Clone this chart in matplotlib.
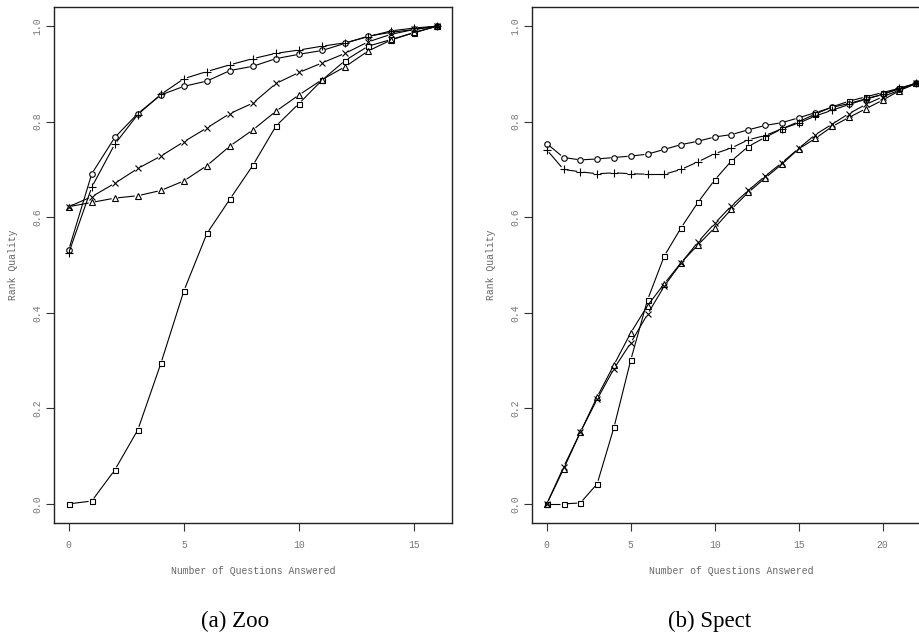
import numpy as np
import matplotlib
matplotlib.use("Agg")
import matplotlib.pyplot as plt

# Zoo dataset (x = 0..16)
zoo_x = list(range(17))
zoo_circle = [0.532, 0.691, 0.767, 0.817, 0.856, 0.874, 0.885, 0.907, 0.916, 0.932,
              0.941, 0.949, 0.964, 0.979, 0.987, 0.993, 1.0]
zoo_plus = [0.525, 0.663, 0.753, 0.815, 0.857, 0.890, 0.905, 0.919, 0.932, 0.943,
            0.950, 0.958, 0.965, 0.978, 0.990, 0.996, 1.0]
zoo_cross = [0.622, 0.643, 0.671, 0.702, 0.728, 0.758, 0.787, 0.817, 0.839, 0.880,
             0.903, 0.923, 0.943, 0.967, 0.983, 0.993, 1.0]
zoo_triangle = [0.622, 0.631, 0.640, 0.645, 0.656, 0.676, 0.708, 0.749, 0.783, 0.822,
                0.856, 0.888, 0.915, 0.948, 0.971, 0.987, 1.0]
zoo_square = [0.0, 0.006, 0.071, 0.155, 0.294, 0.446, 0.566, 0.638, 0.709, 0.791,
              0.838, 0.887, 0.928, 0.958, 0.972, 0.986, 1.0]

# Spect dataset (x = 0..22)
spect_x = list(range(23))
spect_circle = [0.754, 0.725, 0.720, 0.722, 0.725, 0.728, 0.732, 0.742, 0.752, 0.759,
                0.768, 0.773, 0.783, 0.792, 0.798, 0.808, 0.819, 0.830, 0.838, 0.848,
                0.857, 0.869, 0.880]
spect_plus = [0.741, 0.700, 0.695, 0.691, 0.693, 0.691, 0.690, 0.690, 0.700, 0.716,
              0.733, 0.745, 0.762, 0.771, 0.785, 0.797, 0.812, 0.824, 0.836, 0.847,
              0.857, 0.870, 0.880]
spect_square = [0.0, 0.0, 0.002, 0.042, 0.160, 0.301, 0.427, 0.519, 0.578, 0.631,
                0.678, 0.718, 0.748, 0.767, 0.785, 0.800, 0.816, 0.831, 0.843, 0.852,
                0.861, 0.870, 0.880]
spect_cross = [0.0, 0.077, 0.150, 0.219, 0.283, 0.337, 0.397, 0.456, 0.504, 0.548,
               0.587, 0.624, 0.656, 0.686, 0.714, 0.744, 0.773, 0.795, 0.817, 0.836,
               0.852, 0.866, 0.880]
spect_triangle = [0.0, 0.073, 0.150, 0.224, 0.291, 0.358, 0.415, 0.461, 0.505, 0.542,
                  0.578, 0.617, 0.652, 0.682, 0.711, 0.743, 0.765, 0.790, 0.809, 0.827,
                  0.845, 0.865, 0.880]

W, H = 920, 637
fig = plt.figure(figsize=(W / 100, H / 100), dpi=100)


def px_axes(left, top, right, bottom):
    return fig.add_axes([left / W, 1 - bottom / H, (right - left) / W, (bottom - top) / H])


def gapped(ax, x, y, marker, ms, gap=3.2):
    # R type="b": segments stop short of each point
    pts = ax.transData.transform(np.column_stack([x, y]))
    inv = ax.transData.inverted()
    for p0, p1 in zip(pts[:-1], pts[1:]):
        d = p1 - p0
        L = np.hypot(*d)
        if L <= 2 * gap:
            continue
        u = d / L
        a, b = inv.transform([p0 + u * gap, p1 - u * gap])
        ax.plot([a[0], b[0]], [a[1], b[1]], color="black", lw=0.8, solid_capstyle="butt")
    ax.plot(x, y, ls="none", marker=marker, ms=ms, mfc="none", mec="black", mew=0.8)


def style(ax, xmax, xticks):
    ax.set_xlim(-0.04 * xmax, xmax * 1.04)
    ax.set_ylim(-0.04, 1.04)
    ax.set_xticks(xticks)
    ax.set_yticks([0.0, 0.2, 0.4, 0.6, 0.8, 1.0])
    ax.set_yticklabels(["0.0", "0.2", "0.4", "0.6", "0.8", "1.0"], rotation=90, va="center")
    ax.tick_params(length=5.5, width=0.8, colors="#333333", labelcolor="#777777",
                   labelsize=7)
    ax.tick_params(axis="x", pad=7)
    ax.tick_params(axis="y", pad=3)
    for lab in ax.get_xticklabels() + ax.get_yticklabels():
        lab.set_family("Liberation Mono")
    for s in ax.spines.values():
        s.set_linewidth(1.0)
        s.set_color("#222222")
    ax.set_xlabel("Number of Questions Answered", family="Liberation Mono",
                  fontsize=7, color="#666666", labelpad=11)
    ax.set_ylabel("Rank Quality", family="Liberation Mono", fontsize=7,
                  color="#666666", labelpad=10)


ax1 = px_axes(54, 7, 452, 523)
style(ax1, 16, [0, 5, 10, 15])
gapped(ax1, zoo_x, zoo_square, "s", 3.6)
gapped(ax1, zoo_x, zoo_triangle, "^", 4.6)
gapped(ax1, zoo_x, zoo_cross, "x", 4.2)
gapped(ax1, zoo_x, zoo_plus, "+", 6.0)
gapped(ax1, zoo_x, zoo_circle, "o", 4.0)

ax2 = px_axes(532, 7, 931, 523)
style(ax2, 22, [0, 5, 10, 15, 20])
gapped(ax2, spect_x, spect_square, "s", 3.6)
gapped(ax2, spect_x, spect_triangle, "^", 4.6)
gapped(ax2, spect_x, spect_cross, "x", 4.2)
gapped(ax2, spect_x, spect_plus, "+", 6.0)
gapped(ax2, spect_x, spect_circle, "o", 4.0)

fig.text(235 / W, 1 - 621 / H, "(a) Zoo", family="Liberation Serif", fontsize=16.5,
         ha="center", va="center")
fig.text(710 / W, 1 - 621 / H, "(b) Spect", family="Liberation Serif", fontsize=16.5,
         ha="center", va="center")

fig.savefig("out.png", dpi=100)
